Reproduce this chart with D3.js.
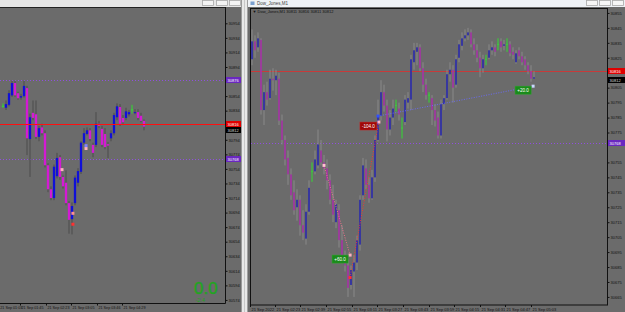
<!DOCTYPE html>
<html><head><meta charset="utf-8">
<script src="https://cdn.jsdelivr.net/npm/d3@7"></script>
<style>
html,body{margin:0;padding:0;background:#f0f0f0;overflow:hidden}
svg{display:block}
text{font-family:"Liberation Sans",Arial,sans-serif}
</style></head><body>
<svg id="c" width="625" height="312"></svg>
<script>
// ---------------- DATA ----------------
const symbolTitle = "Dow_Jones,M1";
const askPrice = 30816;
const bidPrice = 30812;
const leftLevels = [30876, 30768];
const rightLevels = [30768];

// left chart (48 bars)
const leftOpen  = [30840,30838,30842,30855,30872,30858,30852,30854,30865,30795,30831,30829,30798,30811,30803,30759,30726,30714,30744,30770,30743,30735,30707,30685,30707,30735,30750,30790,30802,30807,30787,30787,30816,30809,30802,30788,30796,30803,30825,30839,30824,30824,30829,30835,30831,30832,30827,30820];
const leftHigh  = [30844,30848,30862,30875,30875,30860,30857,30875,30868,30830,30848,30848,30813,30816,30807,30762,30730,30760,30776,30773,30745,30752,30710,30708,30745,30755,30792,30810,30811,30810,30790,30832,30820,30813,30810,30791,30807,30831,30844,30843,30828,30838,30835,30842,30836,30836,30831,30822];
const leftLow   = [30838,30835,30840,30853,30853,30849,30849,30852,30773,30743,30821,30795,30792,30800,30756,30722,30711,30711,30741,30739,30727,30704,30665,30664,30704,30730,30747,30787,30800,30792,30770,30784,30810,30784,30781,30769,30792,30800,30821,30813,30816,30821,30826,30830,30829,30821,30818,30807];
const leftClose = [30840,30843,30858,30872,30855,30851,30854,30868,30796,30825,30824,30798,30810,30803,30759,30726,30714,30757,30769,30743,30730,30707,30684,30703,30742,30751,30790,30803,30807,30795,30776,30816,30813,30787,30784,30786,30803,30828,30840,30816,30818,30833,30832,30835,30832,30824,30820,30812];
const leftPriceTicks = [30954,30934,30914,30894,30874,30854,30834,30814,30794,30774,30754,30734,30714,30694,30674,30654,30634,30614,30594,30574];
const leftTimeIdx = [-1.4,5.67,14.33,22.67,31.33,39.67];
const leftTimeLabels = ["21 Sep 01:03","21 Sep 01:45","21 Sep 02:23","21 Sep 03:05","21 Sep 03:46","21 Sep 04:29"];
const leftMarkers = [{t:19.67,p:30753,c:"#ffb0c0"},{t:23.3,p:30693,c:"#ff9090"},{t:23.3,p:30678,c:"#ff3030"},{t:27.67,p:30782,c:"#ffb0c0"},{t:27.67,p:30786,c:"#8080ff"}];
const balanceBig = "0.0";
const balanceSmall = "-2.4";

// right chart (95 bars)
const rightOpen  = [30824,30836,30832,30837,30790,30802,30798,30811,30810,30811,30783,30770,30758,30747,30735,30725,30730,30713,30704,30722,30749,30749,30753,30763,30755,30751,30743,30730,30715,30723,30703,30691,30686,30673,30682,30688,30700,30733,30751,30740,30731,30745,30770,30786,30802,30793,30777,30785,30793,30791,30778,30782,30795,30797,30822,30829,30832,30818,30807,30800,30798,30790,30785,30773,30794,30798,30814,30817,30807,30825,30833,30838,30840,30842,30834,30830,30825,30818,30824,30825,30830,30832,30834,30836,30833,30834,30834,30829,30822,30830,30826,30824,30820,30816,30811];
const rightHigh  = [30844,30840,30842,30838,30807,30809,30817,30818,30817,30815,30787,30773,30763,30751,30743,30737,30733,30723,30727,30743,30755,30763,30777,30770,30760,30757,30747,30740,30730,30727,30713,30696,30690,30686,30693,30706,30733,30758,30757,30745,30750,30773,30797,30810,30807,30797,30790,30797,30797,30795,30785,30800,30802,30827,30835,30835,30834,30822,30811,30802,30800,30794,30789,30797,30800,30817,30822,30820,30827,30837,30842,30844,30845,30844,30838,30834,30829,30827,30827,30834,30836,30834,30838,30838,30837,30838,30836,30832,30830,30832,30829,30826,30822,30820,30816];
const rightLow   = [30820,30825,30829,30787,30780,30793,30797,30803,30800,30780,30767,30753,30740,30730,30720,30716,30706,30703,30700,30720,30742,30747,30751,30753,30747,30737,30727,30715,30711,30698,30688,30682,30665,30670,30665,30683,30696,30730,30737,30728,30730,30742,30769,30783,30789,30769,30773,30780,30789,30783,30771,30780,30791,30790,30817,30820,30816,30802,30797,30795,30780,30779,30771,30771,30790,30797,30809,30795,30805,30822,30830,30836,30837,30832,30827,30822,30812,30815,30820,30824,30827,30826,30830,30829,30830,30829,30826,30824,30821,30824,30820,30817,30814,30809,30811];
const rightClose = [30836,30830,30838,30790,30802,30797,30811,30810,30813,30783,30770,30757,30747,30733,30723,30730,30713,30708,30722,30738,30749,30757,30767,30755,30751,30743,30730,30720,30727,30703,30691,30686,30671,30683,30688,30703,30730,30753,30740,30731,30745,30770,30786,30802,30793,30777,30785,30791,30793,30787,30778,30797,30798,30824,30830,30832,30818,30807,30800,30800,30790,30783,30773,30794,30798,30814,30817,30805,30824,30834,30838,30840,30842,30834,30830,30825,30818,30824,30824,30830,30832,30829,30834,30832,30834,30834,30828,30827,30828,30826,30822,30820,30816,30811,30812];
const rightPriceTicks = [30855,30845,30835,30825,30815,30805,30795,30785,30775,30765,30755,30745,30735,30725,30715,30705,30695,30685,30675,30665];
const rightTimeIdx = [-0.67,7.67,16,24.67,33.33,41.67,50.33,59,67.33,76,84.33,93];
const rightTimeLabels = ["21 Sep 2022","21 Sep 02:23","21 Sep 02:39","21 Sep 02:55","21 Sep 03:11","21 Sep 03:27","21 Sep 03:43","21 Sep 03:59","21 Sep 04:15","21 Sep 04:31","21 Sep 04:47","21 Sep 05:03"];
const tradeOpenT  = [24, 32.7, 42];
const tradeOpenP  = [30753, 30678, 30786];
const tradeCloseT = [32.7, 42.3, 93.7];
const tradeCloseP = [30693, 30782, 30806];
const tradeProfit = ["+60.0", "-104.0", "+20.0"];

// ---------------- STYLE ----------------
const BG = "#6b6b6b", DOJI = "#33dd33";
const svg = d3.select("#c");
const px = v => Math.round(v) + 0.5;
svg.append("rect").attr("width",625).attr("height",312).attr("fill","#f0f0f0");

// ---- left pane chrome ----
svg.append("rect").attr("x",0).attr("y",7).attr("width",241).attr("height",305).attr("fill",BG);
svg.append("rect").attr("x",0).attr("y",0).attr("width",241).attr("height",7).attr("fill","#e6e6e6");
[202,216,229].forEach(x=>{
  svg.append("rect").attr("x",x+0.5).attr("y",0.5).attr("width",11).attr("height",5).attr("fill","#f4f4f4").attr("stroke","#a8a8a8").attr("stroke-width",0.8);
});
svg.append("rect").attr("x",241).attr("y",0).attr("width",7).attr("height",312).attr("fill","#e9e9e9");
svg.append("line").attr("x1",241.5).attr("x2",241.5).attr("y1",0).attr("y2",312).attr("stroke","#9a9a9a");
svg.append("line").attr("x1",244.5).attr("x2",244.5).attr("y1",0).attr("y2",312).attr("stroke","#c8c8c8");
svg.append("line").attr("x1",247.5).attr("x2",247.5).attr("y1",0).attr("y2",312).attr("stroke","#a0a0a0");

// ---- right pane chrome ----
svg.append("rect").attr("x",248).attr("y",7).attr("width",377).attr("height",305).attr("fill",BG);
svg.append("rect").attr("x",248).attr("y",0).attr("width",377).attr("height",7).attr("fill","#eef1f5");
svg.append("rect").attr("x",250.5).attr("y",1.5).attr("width",4).attr("height",3.5).attr("fill","#7aa0d0");
svg.append("text").attr("x",257).attr("y",5).attr("font-size",4.5).attr("fill","#444").text(symbolTitle);
[586,599,612].forEach(x=>{
  svg.append("rect").attr("x",x+0.5).attr("y",0.5).attr("width",11).attr("height",5).attr("fill","#f6f6f6").attr("stroke","#a8a8a8").attr("stroke-width",0.8);
});

// ---------------- helpers ----------------
function drawCandles(g, x, y, O, H, Lo, C, bw, wickCol, up, dn) {
  const idx = d3.range(O.length);
  g.selectAll("line.w").data(idx).join("line")
    .attr("x1", i=>x(i)).attr("x2", i=>x(i))
    .attr("y1", i=>y(H[i])).attr("y2", i=>y(Lo[i]))
    .attr("stroke", i=> O[i]===C[i] ? DOJI : wickCol).attr("stroke-width",1);
  g.selectAll("rect.b").data(idx.filter(i=>O[i]!==C[i])).join("rect")
    .attr("x", i=>x(i)-bw/2).attr("width", bw)
    .attr("y", i=>y(Math.max(O[i],C[i])))
    .attr("height", i=>Math.max(1, Math.abs(y(O[i])-y(C[i]))))
    .attr("fill", i=> C[i]>O[i] ? up : dn);
  g.selectAll("line.d").data(idx.filter(i=>O[i]===C[i])).join("line")
    .attr("x1", i=>x(i)-bw/2).attr("x2", i=>x(i)+bw/2)
    .attr("y1", i=>y(O[i])).attr("y2", i=>y(O[i]))
    .attr("stroke", DOJI).attr("stroke-width",1);
}
function priceBox(x0, w, yy, fill, txt, tcol) {
  svg.append("rect").attr("x",x0).attr("y",Math.round(yy)-3).attr("width",w).attr("height",6).attr("fill",fill);
  svg.append("text").attr("x",x0+1.5).attr("y",Math.round(yy)+1.5).attr("font-size",4).attr("fill",tcol||"#fff").text(txt);
}
function styleAxis(g, fs){
  g.select(".domain").remove();
  g.selectAll(".tick line").attr("stroke","#111");
  g.selectAll(".tick text").attr("font-size",fs||4).attr("fill","#111").attr("font-family","Liberation Sans, Arial, sans-serif");
}

// ================= LEFT CHART =================
const xL = d3.scaleLinear().domain([0,47]).range([3,144]);
const yL = d3.scaleLinear().domain([30569.8,30976.4]).range([303,7]);
svg.append("clipPath").attr("id","clipL").append("rect").attr("x",0).attr("y",7.5).attr("width",225).attr("height",295.5);
const gL = svg.append("g").attr("clip-path","url(#clipL)");
leftLevels.forEach(p=>{
  gL.append("line").attr("x1",0).attr("x2",225).attr("y1",px(yL(p))).attr("y2",px(yL(p)))
    .attr("stroke","#9050e0").attr("stroke-dasharray","1,2").attr("stroke-width",1);
});
drawCandles(gL, xL, yL, leftOpen, leftHigh, leftLow, leftClose, 2.3, "#4c4c4c", "#1010d8", "#d41ad4");
gL.append("line").attr("x1",0).attr("x2",225).attr("y1",px(yL(askPrice))).attr("y2",px(yL(askPrice))).attr("stroke","#ff1010").attr("stroke-width",1);
leftMarkers.forEach(m=>{
  gL.append("rect").attr("x",xL(m.t)-1.5).attr("y",yL(m.p)-1.5).attr("width",3).attr("height",3).attr("fill",m.c);
});
svg.append("line").attr("x1",0).attr("x2",225.5).attr("y1",7.5).attr("y2",7.5).attr("stroke","#222");
svg.append("line").attr("x1",225.5).attr("x2",225.5).attr("y1",7).attr("y2",303.5).attr("stroke","#111");
svg.append("line").attr("x1",0).attr("x2",225.5).attr("y1",303.5).attr("y2",303.5).attr("stroke","#111");
const boxesL = [askPrice,bidPrice].concat(leftLevels);
const ltv = leftPriceTicks.filter(t=>boxesL.every(b=>Math.abs(yL(t)-yL(b))>4));
const axL = svg.append("g").attr("transform","translate(225.5,0)")
  .call(d3.axisRight(yL).tickValues(ltv).tickSize(2).tickPadding(1).tickFormat(d3.format("d")));
styleAxis(axL);
const axLB = svg.append("g").attr("transform","translate(0,303.5)")
  .call(d3.axisBottom(xL).tickValues(leftTimeIdx).tickSize(2).tickPadding(1).tickFormat((d,i)=>leftTimeLabels[i]));
styleAxis(axLB, 3.7);
axLB.selectAll(".tick text").attr("text-anchor","start").attr("x",1);
leftLevels.forEach(p=>priceBox(226,15,yL(p),"#6a28c0",String(p)));
priceBox(226,15,yL(askPrice),"#e00000",String(askPrice));
priceBox(226,15,yL(bidPrice)+3,"#000000",String(bidPrice),"#ddd");
svg.append("text").attr("x",194).attr("y",294).attr("font-size",17).attr("fill","#22a422").attr("stroke","#22a422").attr("stroke-width",0.4).text(balanceBig);
svg.append("text").attr("x",195.5).attr("y",301.5).attr("font-size",5.5).attr("fill","#22a422").text(balanceSmall);

// ================= RIGHT CHART =================
const xR = d3.scaleLinear().domain([0,94]).range([252,534]);
const yR = d3.scaleLinear().domain([30659.6,30858.3]).range([305,8]);
svg.append("clipPath").attr("id","clipR").append("rect").attr("x",251).attr("y",9).attr("width",356).attr("height",296);
const gR = svg.append("g").attr("clip-path","url(#clipR)");
rightLevels.forEach(p=>{
  gR.append("line").attr("x1",251).attr("x2",607).attr("y1",px(yR(p))).attr("y2",px(yR(p)))
    .attr("stroke","#9050e0").attr("stroke-dasharray","1,2").attr("stroke-width",1);
});
gR.append("line").attr("x1",251).attr("x2",607).attr("y1",px(yR(askPrice))).attr("y2",px(yR(askPrice))).attr("stroke","#c83a3a").attr("stroke-width",1);
drawCandles(gR, xR, yR, rightOpen, rightHigh, rightLow, rightClose, 1.4, "#8a8a8a", "#1c1cb0", "#a824a8");
const tradeCols = ["#ff7090","#ff3030","#6a6aff"];
const openCols = ["#ffc0d0","#ff3030","#3050ff"];
tradeOpenT.forEach((t,k)=>{
  const x0=xR(t), y0=yR(tradeOpenP[k]), x1=xR(tradeCloseT[k]), y1=yR(tradeCloseP[k]);
  gR.append("line").attr("x1",x0).attr("y1",y0).attr("x2",x1).attr("y2",y1)
    .attr("stroke",tradeCols[k]).attr("stroke-dasharray","1,1.5").attr("stroke-width",0.9);
  gR.append("rect").attr("x",x0-1.5).attr("y",y0-1.5).attr("width",3).attr("height",3).attr("fill",openCols[k]);
  gR.append("rect").attr("x",x1-1.5).attr("y",y1-1.5).attr("width",3).attr("height",3).attr("fill",k===2?"#c8d8ff":"#ffb0c0");
  const neg = tradeProfit[k].startsWith("-");
  const w = neg?17:16;
  const bx = x1 - 2 - w;
  gR.append("rect").attr("x",bx).attr("y",y1).attr("width",w).attr("height",8).attr("fill",neg?"#a00808":"#1a8a1a").attr("stroke",neg?"#c03030":"#2aa82a").attr("stroke-width",0.5);
  gR.append("text").attr("x",bx+w/2).attr("y",y1+5.6).attr("text-anchor","middle").attr("font-size",4.6).attr("fill","#fff").text(tradeProfit[k]);
});
svg.append("rect").attr("x",250.5).attr("y",8.5).attr("width",357).attr("height",296.5).attr("fill","none").attr("stroke","#111");
const last = rightOpen.length-1;
svg.append("text").attr("x",252.5).attr("y",12.8).attr("font-size",4).attr("fill","#111")
  .text("\u25BC " + symbolTitle + "  " + [rightOpen[last],rightHigh[last],rightLow[last],rightClose[last]].join(" "));
const boxesR = [askPrice,bidPrice].concat(rightLevels);
const rtv = rightPriceTicks.filter(t=>boxesR.every(b=>Math.abs(yR(t)-yR(b))>4.5));
const axR = svg.append("g").attr("transform","translate(607.5,0)")
  .call(d3.axisRight(yR).tickValues(rtv).tickSize(2).tickPadding(1).tickFormat(d3.format("d")));
styleAxis(axR);
const axRB = svg.append("g").attr("transform","translate(0,305)")
  .call(d3.axisBottom(xR).tickValues(rightTimeIdx).tickSize(2).tickPadding(1).tickFormat((d,i)=>rightTimeLabels[i]));
styleAxis(axRB);
axRB.selectAll(".tick text").attr("text-anchor","start").attr("x",1);
rightLevels.forEach(p=>priceBox(608,17,yR(p),"#6a28c0",String(p)));
priceBox(608,17,yR(askPrice),"#e00000",String(askPrice));
priceBox(608,17,yR(bidPrice)+3,"#000000",String(bidPrice),"#ddd");
</script>
</body></html>
